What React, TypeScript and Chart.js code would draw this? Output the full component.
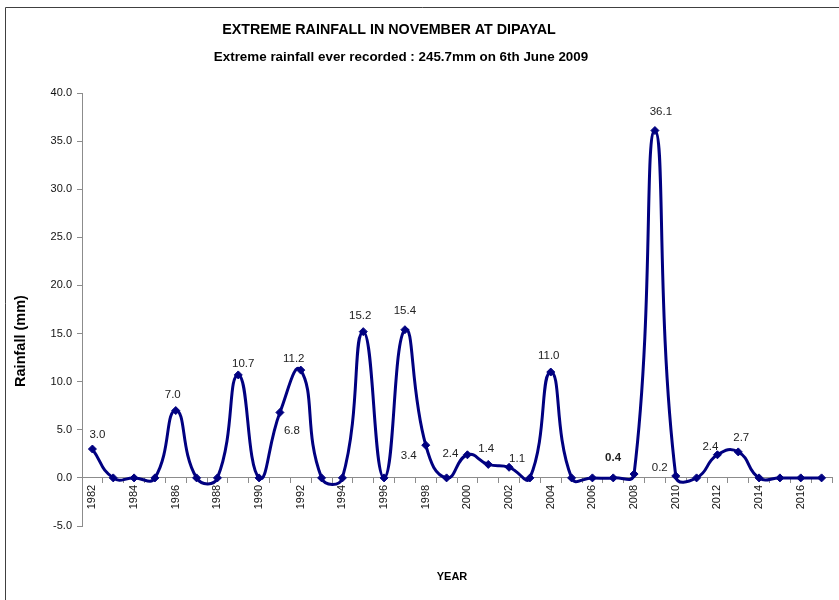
import React, { useEffect, useRef } from "react";
import { Chart, registerables } from "chart.js";

Chart.register(...registerables);

const years = [
  "1982", "1983", "1984", "1985", "1986", "1987", "1988", "1989", "1990", "1991",
  "1992", "1993", "1994", "1995", "1996", "1997", "1998", "1999", "2000", "2001",
  "2002", "2003", "2004", "2005", "2006", "2007", "2008", "2009", "2010", "2011",
  "2012", "2013", "2014", "2015", "2016", "2017",
];
const rainfall = [
  3.0, 0, 0, 0, 7.0, 0, 0, 10.7, 0, 6.8,
  11.2, 0, 0, 15.2, 0, 15.4, 3.4, 0, 2.4, 1.4,
  1.1, 0, 11.0, 0, 0, 0, 0.4, 36.1, 0.2, 0,
  2.4, 2.7, 0, 0, 0, 0,
];
const yTicks = [-5, 0, 5, 10, 15, 20, 25, 30, 35, 40];

const chartTitle = "EXTREME RAINFALL IN NOVEMBER AT DIPAYAL";
const chartSubtitle = "Extreme rainfall ever recorded : 245.7mm on 6th June 2009";
const yTitle = "Rainfall (mm)";
const xTitle = "YEAR";

// label placement relative to the point (dx, dy), keyed by year
const labelPlacement: Record<string, [number, number]> = {
  "1982": [5, -14], "1986": [-3, -16], "1989": [5, -11], "1991": [12, 18],
  "1992": [-7, -11], "1995": [-3, -16], "1997": [0, -19], "1998": [-17, 11],
  "2000": [-17, -1], "2001": [-2, -16], "2002": [8, -8], "2004": [-2, -16],
  "2008": [-21, -16], "2009": [6, -19], "2010": [-16, -8], "2012": [-7, -8],
  "2013": [3, -14],
};
const boldLabels = ["2008"];

const NAVY = "#000080";

const decorPlugin = {
  id: "decor",
  beforeDraw(chart: any) {
    const ctx = chart.ctx;
    ctx.save();
    ctx.fillStyle = "#ffffff";
    ctx.fillRect(0, 0, chart.width, chart.height);
    ctx.strokeStyle = "#404040";
    ctx.lineWidth = 1;
    ctx.beginPath();
    ctx.moveTo(5.5, chart.height);
    ctx.lineTo(5.5, 7.5);
    ctx.lineTo(chart.width, 7.5);
    ctx.stroke();

    ctx.fillStyle = "#000000";
    ctx.textAlign = "center";
    ctx.textBaseline = "middle";
    ctx.font = "bold 14.3px 'Liberation Sans', sans-serif";
    ctx.fillText(chartTitle, 389, 30);
    ctx.font = "bold 13.4px 'Liberation Sans', sans-serif";
    ctx.fillText(chartSubtitle, 401, 57);

    ctx.font = "bold 11px 'Liberation Sans', sans-serif";
    ctx.fillText(xTitle, 452, 577);

    ctx.save();
    ctx.translate(21, 341);
    ctx.rotate(-Math.PI / 2);
    ctx.font = "bold 14.5px 'Liberation Sans', sans-serif";
    ctx.fillText(yTitle, 0, 0);
    ctx.restore();
    ctx.restore();
  },
  afterDatasetsDraw(chart: any) {
    const ctx = chart.ctx;
    const meta = chart.getDatasetMeta(0);
    ctx.save();
    ctx.textAlign = "center";
    ctx.textBaseline = "middle";
    ctx.fillStyle = "#222222";
    meta.data.forEach((pt: any, i: number) => {
      const yr = years[i];
      const off = labelPlacement[yr];
      if (!off) return;
      ctx.font = (boldLabels.includes(yr) ? "bold " : "") + "11.5px 'Liberation Sans', sans-serif";
      ctx.fillText(rainfall[i].toFixed(1), pt.x + off[0], pt.y + off[1]);
    });
    ctx.restore();
  },
};

export default function App() {
  const ref = useRef<HTMLCanvasElement | null>(null);
  useEffect(() => {
    if (!ref.current) return;
    const chart = new Chart(ref.current, {
      type: "line",
      data: {
        labels: years,
        datasets: [
          {
            data: rainfall,
            borderColor: NAVY,
            backgroundColor: NAVY,
            borderWidth: 3,
            tension: 0.5,
            pointStyle: "rectRot",
            pointRadius: 4,
            pointBorderWidth: 1,
            fill: false,
          },
        ],
      },
      options: {
        animation: false,
        responsive: false,
        devicePixelRatio: 1,
        layout: { padding: { left: 22, top: 93, right: 7, bottom: 74 } },
        plugins: { legend: { display: false }, title: { display: false }, tooltip: { enabled: false } },
        scales: {
          x: {
            type: "category",
            position: { y: 0 } as any,
            offset: true,
            grid: { display: true, drawOnChartArea: false, offset: true, tickLength: 5, color: "#8c8c8c" },
            border: { display: true, color: "#8c8c8c", width: 1 },
            ticks: {
              autoSkip: false,
              maxRotation: 90,
              minRotation: 90,
              padding: 2,
              color: "#111111",
              font: { family: "'Liberation Sans', sans-serif", size: 11 },
              callback: (_v: any, i: number) => (i % 2 === 0 ? years[i] : ""),
            },
          },
          y: {
            min: yTicks[0],
            max: yTicks[yTicks.length - 1],
            afterFit: (s: any) => { s.width = 60; },
            afterBuildTicks: (s: any) => { s.ticks = yTicks.map((v) => ({ value: v })); },
            grid: { display: true, drawOnChartArea: false, tickLength: 5, color: "#8c8c8c" },
            border: { display: true, color: "#8c8c8c", width: 1 },
            ticks: {
              padding: 5,
              color: "#111111",
              font: { family: "'Liberation Sans', sans-serif", size: 11 },
              callback: (v: any) => Number(v).toFixed(1),
            },
          },
        },
      },
      plugins: [decorPlugin],
    });
    return () => chart.destroy();
  }, []);
  return (
    <div style={{ position: "fixed", left: 0, top: 0, width: 839, height: 600 }}>
      <canvas ref={ref} width={839} height={600} style={{ width: 839, height: 600 }} />
    </div>
  );
}
